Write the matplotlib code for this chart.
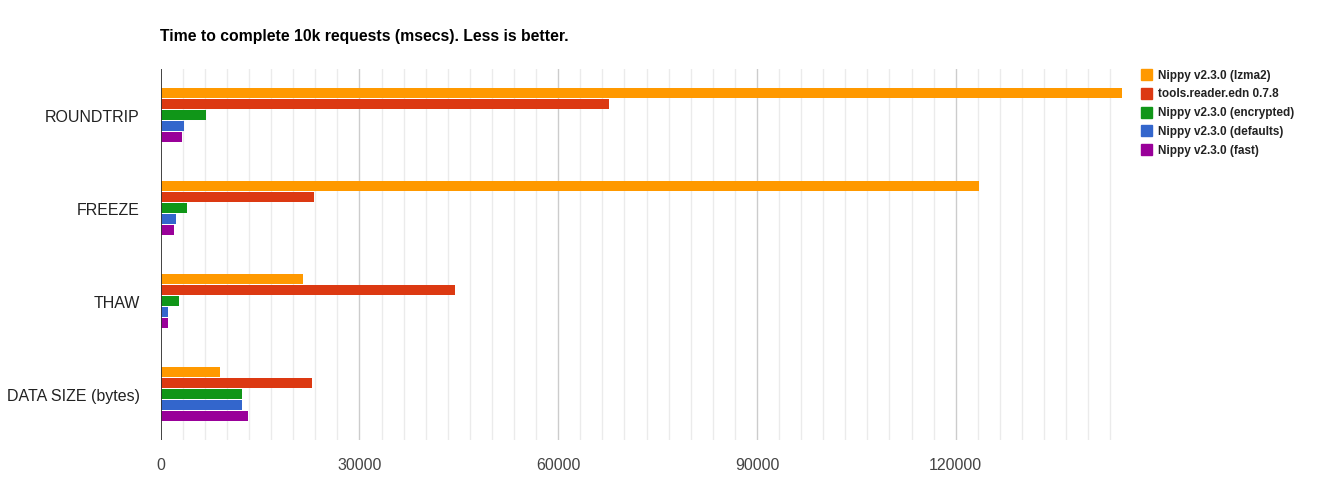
import matplotlib
matplotlib.use("Agg")
import matplotlib.pyplot as plt
import numpy as np
from matplotlib.patches import Rectangle

categories = ["ROUNDTRIP", "FREEZE", "THAW", "DATA SIZE (bytes)"]
series_names = ["Nippy v2.3.0 (lzma2)", "tools.reader.edn 0.7.8",
                "Nippy v2.3.0 (encrypted)", "Nippy v2.3.0 (defaults)",
                "Nippy v2.3.0 (fast)"]
lzma2 = [145100, 123500, 21500, 8950]
edn = [67700, 23150, 44400, 22850]
encrypted = [6850, 3950, 2750, 12250]
defaults = [3500, 2300, 1100, 12250]
fast = [3200, 2000, 1100, 13200]
colors = ["#ff9900", "#dc3912", "#109618", "#3366cc", "#990099"]
xticks = [0, 30000, 60000, 90000, 120000]

W, H = 1317, 485
fig = plt.figure(figsize=(W / 100, H / 100), dpi=100)
plt.rcParams['font.family'] = ['Liberation Sans', 'DejaVu Sans']
x0, x1, y0, y1 = 160.7, 1122, 70, 441
ax = fig.add_axes([x0 / W, 1 - y1 / H, (x1 - x0) / W, (y1 - y0) / H])

data = [lzma2, edn, encrypted, defaults, fast]
n = len(data)
band = 11 / 92.75
bh = 10 / 92.75
ypos = np.arange(len(categories))
for i, (vals, c) in enumerate(zip(data, colors)):
    off = (i - (n - 1) / 2) * band
    ax.barh(ypos + off, vals, height=bh, color=c, zorder=3)

xmax = max(lzma2)
ax.set_xlim(0, xmax)
ax.set_ylim(len(categories) - 0.5, -0.5)

# gridlines
minor_step = 30000 / 9
m = minor_step
while m < xmax:
    if abs(m / 30000 - round(m / 30000)) > 1e-6:
        ax.axvline(m, color="#ebebeb", lw=1, zorder=1)
    m += minor_step
for t in xticks[1:]:
    ax.axvline(t, color="#cccccc", lw=1, zorder=2)
ax.axvline(0, color="#333333", lw=1.3, zorder=4)

for s in ax.spines.values():
    s.set_visible(False)
ax.set_xticks(xticks)
ax.set_xticklabels([str(t) for t in xticks], fontsize=11.5, color="#444444")
ax.tick_params(axis="x", length=0, pad=12)
ax.set_yticks(ypos)
ax.set_yticklabels(categories, fontsize=11.5, color="#222222")
ax.tick_params(axis="y", length=0, pad=15)

fig.text(160 / W, 1 - 37 / H, "Time to complete 10k requests (msecs). Less is better.",
         fontsize=11.3, fontweight="bold", color="#000000", va="center", ha="left")

# legend
for i, (name, c) in enumerate(zip(series_names, colors)):
    yc = 75.7 + i * 18.75
    fig.patches.append(Rectangle((1141 / W, 1 - (yc + 5.5) / H), 11 / W, 11 / H,
                                 transform=fig.transFigure, color=c, figure=fig))
    fig.text(1158 / W, 1 - yc / H, name, fontsize=8.45, fontweight="bold",
             color="#222222", va="center", ha="left")

fig.savefig("out.png", dpi=100)
